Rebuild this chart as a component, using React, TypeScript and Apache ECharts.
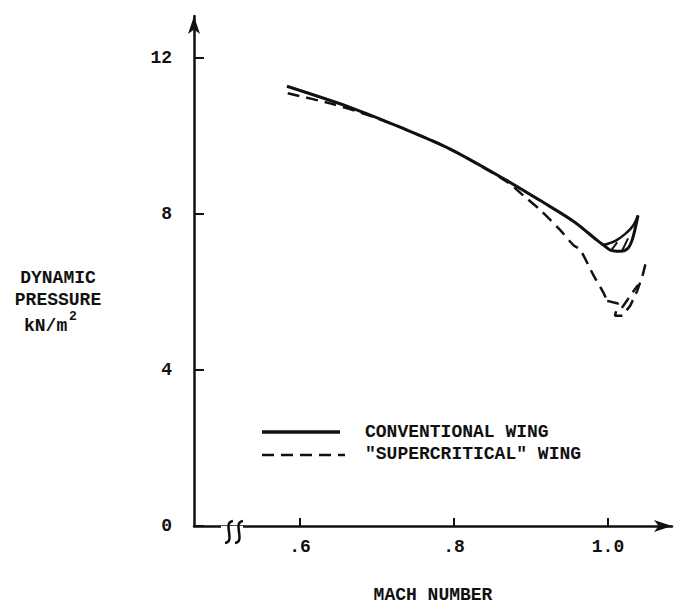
import React, { useEffect, useRef } from "react";
import * as echarts from "echarts";

// Conventional wing (solid) – main curve and lower branch of the envelope
const convMach = [0.583, 0.665, 0.73, 0.795, 0.869, 0.912, 0.955, 0.986, 0.994, 1.003, 1.016, 1.026, 1.032, 1.039];
const convQ = [11.27, 10.73, 10.22, 9.66, 8.85, 8.34, 7.81, 7.32, 7.2, 7.07, 7.04, 7.12, 7.37, 7.96];
// Conventional wing – upper branch of the envelope
const convUpMach = [0.994, 1.009, 1.022, 1.032, 1.039];
const convUpQ = [7.2, 7.3, 7.48, 7.68, 7.96];
// Hatch strokes inside the conventional envelope
const hatchMach = [[1.005, 1.012], [1.018, 1.026]];
const hatchQ = [[7.09, 7.27], [7.04, 7.37]];

// "Supercritical" wing (dashed) – smooth part
const superMach = [0.584, 0.639, 0.678, 0.73, 0.795, 0.869, 0.89, 0.914, 0.938, 0.955, 0.964, 0.981, 0.994, 0.999];
const superQ = [11.09, 10.83, 10.6, 10.22, 9.66, 8.82, 8.47, 8.06, 7.58, 7.2, 7.07, 6.43, 5.98, 5.77];
// "Supercritical" wing – notch and rising end near Mach 1
const superEndMach = [0.999, 1.013, 1.009, 1.019, 1.029, 1.038, 1.045, 1.049];
const superEndQ = [5.77, 5.7, 5.39, 5.39, 5.65, 6.03, 6.43, 6.74];
const superInMach = [1.018, 1.029, 1.039];
const superInQ = [5.59, 5.9, 6.18];

const xTicks = [0.6, 0.8, 1.0];
const xTickLabels = [".6", ".8", "1.0"];
const yTicks = [0, 4, 8, 12];

const legendNames = ["CONVENTIONAL WING", "\"SUPERCRITICAL\" WING"];

const FONT = "Liberation Mono";
const INK = "#111";

const pairs = (xs: number[], ys: number[]) => xs.map((x, i) => [x, ys[i]]);

export default function App() {
  const ref = useRef<HTMLDivElement>(null);
  useEffect(() => {
    document.body.style.margin = "0";
    if (!ref.current) return;
    const chart = echarts.init(ref.current, undefined, { renderer: "svg" });
    const solid = { color: INK, width: 3, type: "solid" as const };
    const dashed = { color: INK, width: 2.5, type: [12, 7] as any };
    const series: any[] = [
      { type: "line", name: legendNames[0], data: pairs(convMach, convQ), smooth: 0.3, showSymbol: false, lineStyle: solid },
      { type: "line", data: pairs(convUpMach, convUpQ), smooth: 0.3, showSymbol: false, lineStyle: { ...solid, width: 2.5 } },
      ...hatchMach.map((m, i) => ({ type: "line", data: pairs(m, hatchQ[i]), showSymbol: false, lineStyle: { ...solid, width: 2 } })),
      { type: "line", name: legendNames[1], data: pairs(superMach, superQ), smooth: 0.3, showSymbol: false, lineStyle: dashed },
      { type: "line", data: pairs(superEndMach, superEndQ), showSymbol: false, lineStyle: dashed },
      { type: "line", data: pairs(superInMach, superInQ), showSymbol: false, lineStyle: dashed },
    ];
    const breakCurve = (x: number) => ({
      type: "bezierCurve",
      shape: { x1: x + 4, y1: 521, cpx1: x - 7, cpy1: 522, cpx2: x + 7, cpy2: 542, x2: x - 4, y2: 543 },
      style: { stroke: INK, lineWidth: 2.5, fill: "none" },
      z: 100,
    });
    const tf = (size: number) => `bold ${size}px "${FONT}"`;
    chart.setOption({
      animation: false,
      grid: { left: 194, right: 10, top: 16, bottom: 79 },
      xAxis: {
        type: "value",
        min: 0.4623,
        max: 1.0831,
        name: "MACH NUMBER",
        nameLocation: "middle",
        nameGap: 60,
        nameTextStyle: { fontFamily: FONT, fontSize: 18, fontWeight: "bold", color: INK },
        axisLine: { show: true, onZero: false, lineStyle: { color: INK, width: 2.5 }, symbol: ["none", "arrow"], symbolSize: [9, 18] },
        axisTick: { show: true, inside: true, length: 8, lineStyle: { color: INK, width: 2 }, customValues: xTicks },
        axisLabel: {
          customValues: xTicks,
          margin: 12,
          fontFamily: FONT,
          fontSize: 18,
          fontWeight: "bold",
          color: INK,
          formatter: (v: number) => xTickLabels[xTicks.findIndex((t) => Math.abs(t - v) < 1e-6)] ?? "",
        },
        splitLine: { show: false },
      },
      yAxis: {
        type: "value",
        min: 0,
        max: 13.07,
        axisLine: { show: true, onZero: false, lineStyle: { color: INK, width: 2.5 }, symbol: ["none", "arrow"], symbolSize: [9, 18] },
        axisTick: { show: true, inside: true, length: 10, lineStyle: { color: INK, width: 2 }, customValues: yTicks },
        axisLabel: { customValues: yTicks, margin: 22, fontFamily: FONT, fontSize: 18, fontWeight: "bold", color: INK },
        splitLine: { show: false },
      },
      series,
      graphic: [
        { type: "rect", shape: { x: 221, y: 526, width: 22, height: 8 }, style: { fill: "#fff" }, z: 99 },
        breakCurve(229),
        breakCurve(239),
        { type: "line", shape: { x1: 262, y1: 432, x2: 340, y2: 432 }, style: { stroke: INK, lineWidth: 3.5 } },
        { type: "line", shape: { x1: 262, y1: 455, x2: 345, y2: 455 }, style: { stroke: INK, lineWidth: 2.5, lineDash: [12, 7] } },
        { type: "text", x: 365, y: 432, style: { text: legendNames[0], font: tf(18), fill: INK, verticalAlign: "middle" } },
        { type: "text", x: 365, y: 454, style: { text: legendNames[1], font: tf(18), fill: INK, verticalAlign: "middle" } },
        { type: "text", x: 58, y: 278, style: { text: "DYNAMIC", font: tf(18), fill: INK, align: "center", verticalAlign: "middle" } },
        { type: "text", x: 58, y: 300, style: { text: "PRESSURE", font: tf(18), fill: INK, align: "center", verticalAlign: "middle" } },
        { type: "text", x: 24, y: 326, style: { text: "kN/m", font: tf(18), fill: INK, align: "left", verticalAlign: "middle" } },
        { type: "text", x: 69, y: 316, style: { text: "2", font: tf(13), fill: INK, align: "left", verticalAlign: "middle" } },
      ],
    });
    return () => chart.dispose();
  }, []);
  return <div ref={ref} style={{ width: 682, height: 609 }} />;
}
